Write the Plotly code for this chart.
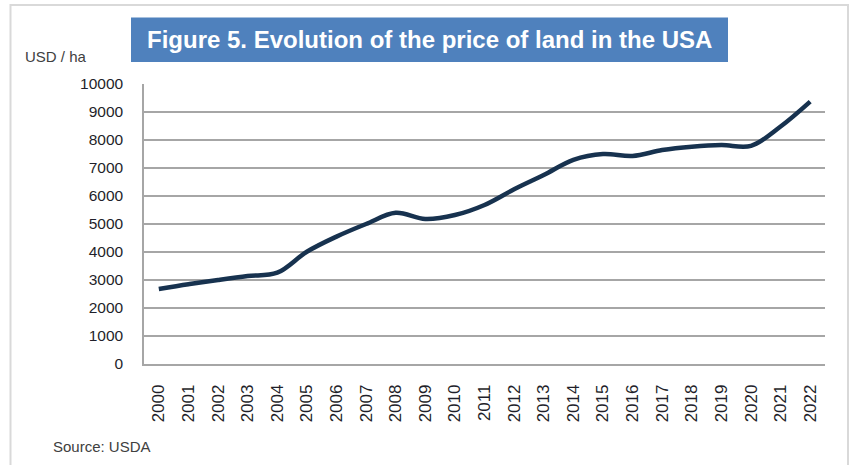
import plotly.graph_objects as go

# data (USD per hectare)
years = [str(y) for y in range(2000, 2023)]
price_usd_ha = [2680, 2850, 3000, 3140, 3260, 4010, 4550, 5000, 5400, 5180,
                5320, 5680, 6240, 6750, 7290, 7500, 7430, 7640, 7760, 7820,
                7790, 8480, 9370]
y_ticks = list(range(0, 10001, 1000))

W, H = 854, 465
L, R, T, B = 144, 29, 84, 101
PW, PH = W - L - R, H - T - B


def px(x):
    return (x - L) / PW


def py(y):
    return (H - B - y) / PH


FONT = "Liberation Sans, Arial, sans-serif"

fig = go.Figure(go.Scatter(
    x=years, y=price_usd_ha, mode="lines",
    line=dict(color="#17324F", width=4.5, shape="spline", smoothing=1.0),
    hoverinfo="x+y", showlegend=False,
))

fig.update_layout(
    width=W, height=H, autosize=False,
    margin=dict(l=L, r=R, t=T, b=B),
    paper_bgcolor="white", plot_bgcolor="white",
    font=dict(family=FONT, color="#222222"),
    xaxis=dict(type="category", range=[-0.5, len(years) - 0.5],
               tickangle=-90, tickfont=dict(size=17, color="#1f1f2a"),
               showgrid=False, showline=True, linecolor="#A6A6A6", linewidth=1.5,
               ticks="", ticklabelstandoff=12, fixedrange=True),
    yaxis=dict(range=[0, 10000], tickvals=y_ticks, ticktext=[str(v) for v in y_ticks],
               tickfont=dict(size=15.5, color="#1f1f2a"),
               showgrid=True, gridcolor="#A6A6A6", gridwidth=1.5,
               showline=True, linecolor="#A6A6A6", linewidth=1.5,
               zeroline=False, ticks="", ticklabelstandoff=16, fixedrange=True),
    shapes=[
        # outer chart frame
        dict(type="rect", xref="paper", yref="paper",
             x0=px(10.5), x1=px(848), y0=py(470), y1=py(5),
             line=dict(color="#D9D9D9", width=2), fillcolor="rgba(0,0,0,0)",
             layer="below"),
        # blue title box
        dict(type="rect", xref="paper", yref="paper",
             x0=px(131), x1=px(728), y0=py(62), y1=py(17.5),
             line=dict(width=0), fillcolor="#4F81BD", layer="above"),
    ],
    annotations=[
        dict(text="<b>Figure 5. Evolution of the price of land in the USA</b>",
             xref="paper", yref="paper", x=px(429.5), y=py(40),
             xanchor="center", yanchor="middle", showarrow=False,
             font=dict(family=FONT, size=24, color="white")),
        dict(text="USD / ha", xref="paper", yref="paper", x=px(23), y=py(56.5),
             xanchor="left", yanchor="middle", showarrow=False,
             font=dict(family=FONT, size=15, color="#404040")),
        dict(text="Source: USDA", xref="paper", yref="paper", x=px(51), y=py(446),
             xanchor="left", yanchor="middle", showarrow=False,
             font=dict(family=FONT, size=15, color="#404040")),
    ],
)

# drop the default 8px body margin so the figure sits flush with the window
fig.write_html("out.html", config={"displayModeBar": False},
               post_script="document.body.style.margin='0';")
